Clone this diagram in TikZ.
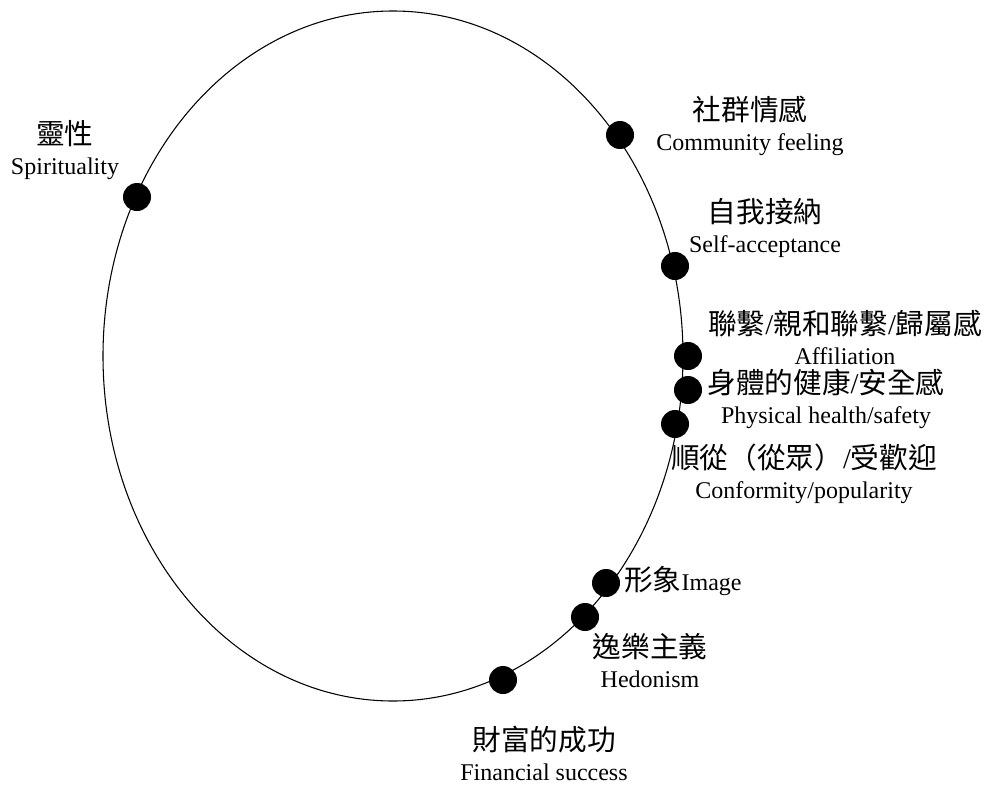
\documentclass[tikz,border=0pt]{standalone}
\usepackage{fontspec}
\setmainfont{Liberation Serif}
\newfontfamily\cjk{Noto Sans CJK TC}
\usepackage{xcolor}
\definecolor{cMain}{HTML}{000000}
\usetikzlibrary{positioning}
\newcommand\zh[1]{{\cjk\fontsize{21.5}{22}\selectfont #1}}
\newcommand\zsl{{\rmfamily /}}
\tikzset{
  node-dot/.style={circle,fill=cMain,inner sep=0pt,minimum size=21pt},
  node-label/.style={align=center,inner sep=0pt,anchor=base,
    font=\fontsize{18}{22}\selectfont},
  ring/.style={draw=cMain,line width=0.8pt},
}

\begin{document}
\begin{tikzpicture}[x=0.75pt,y=-0.75pt]
  \useasboundingbox (0,0) rectangle (989,785);
  \coordinate (centre) at (393,356);
  \draw[ring] (centre) ellipse [x radius=290, y radius=345];

  % values on the ring
  \node[node-dot] (d-spirit) at (137,197) {};
  \node[node-dot] (d-community) at (620,135) {};
  \node[node-dot] (d-self) at (675,266) {};
  \node[node-dot] (d-affil) at (688,356) {};
  \node[node-dot] (d-health) at (688,390) {};
  \node[node-dot] (d-conform) at (675,424) {};
  \node[node-dot] (d-image) at (606,583) {};
  \node[node-dot] (d-hedon) at (585,617) {};
  \node[node-dot] (d-wealth) at (503,680) {};

  \node[node-label] (l-spirit) at (65,174) {\zh{靈性}\\Spirituality};
  \node[node-label] (l-community) at (750,150) {\zh{社群情感}\\Community feeling};
  \node[node-label] (l-self) at (765,252) {\zh{自我接納}\\Self-acceptance};
  \node[node-label] (l-affil) at (845,364) {\zh{聯繫\zsl 親和聯繫\zsl 歸屬感}\\Affiliation};
  \node[node-label] (l-health) at (826,423) {\zh{身體的健康\zsl 安全感}\\Physical health/safety};
  \node[node-label] (l-conform) at (804,498) {\zh{順從（從眾）\zsl 受歡迎}\\Conformity/popularity};
  \node[node-label,anchor=base west] (l-image) at (624,590) {\zh{形象}Image};
  \node[node-label] (l-hedon) at (650,687) {\zh{逸樂主義}\\Hedonism};
  \node[node-label] (l-wealth) at (544,780) {\zh{財富的成功}\\Financial success};
\end{tikzpicture}
\end{document}
